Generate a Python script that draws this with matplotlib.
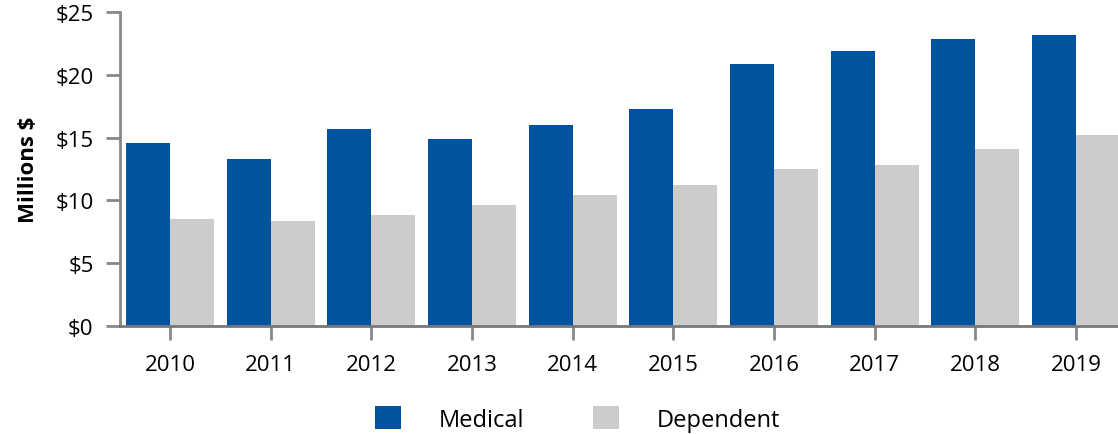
import numpy as np
import matplotlib.pyplot as plt
from matplotlib.ticker import FuncFormatter

plt.rcParams['font.family'] = ['Open Sans', 'DejaVu Sans']

years = ["2010", "2011", "2012", "2013", "2014", "2015", "2016", "2017", "2018", "2019"]
medical = [14.6, 13.3, 15.7, 14.9, 16.0, 17.3, 20.9, 21.9, 22.85, 23.2]
dependent = [8.5, 8.35, 8.85, 9.65, 10.45, 11.25, 12.5, 12.8, 14.1, 15.2]

blue = "#00549f"
grey = "#cccccc"
axis_grey = "#888888"

fig = plt.figure(figsize=(11.18, 4.35), dpi=100)
ax = fig.add_axes([0.1073, 0.2483, 0.8927, 0.7217])

x = np.arange(len(years))
w = 0.437
ax.bar(x - w / 2, medical, width=w, color=blue, label="Medical", zorder=2)
ax.bar(x + w / 2, dependent, width=w, color=grey, label="Dependent", zorder=2)

ax.set_xlim(-0.497, 9.417)
ax.set_ylim(0, 25)
ax.set_yticks(np.arange(0, 26, 5))
ax.yaxis.set_major_formatter(FuncFormatter(lambda v, p: "${:d}".format(int(v))))
ax.set_xticks(x)
ax.set_xticklabels(years)

for s in ["top", "right"]:
    ax.spines[s].set_visible(False)
ax.spines["left"].set_color(axis_grey)
ax.spines["left"].set_linewidth(2)
ax.spines["bottom"].set_color("#777777")
ax.spines["bottom"].set_linewidth(2)
ax.spines["bottom"].set_zorder(3)

ax.tick_params(axis="y", length=10, width=2, color=axis_grey, labelsize=16, pad=9)
ax.tick_params(axis="x", length=10, width=2, color=axis_grey, labelsize=16, pad=10)

ax.set_ylabel("Millions $", fontsize=16, fontweight="bold", labelpad=12)

fig.legend(loc="center", bbox_to_anchor=(0.5166, 0.035), ncol=2, frameon=False,
           fontsize=17, handlelength=1.1, handleheight=1.15,
           handletextpad=1.6, columnspacing=2.9)

fig.savefig("out.png", dpi=100)
